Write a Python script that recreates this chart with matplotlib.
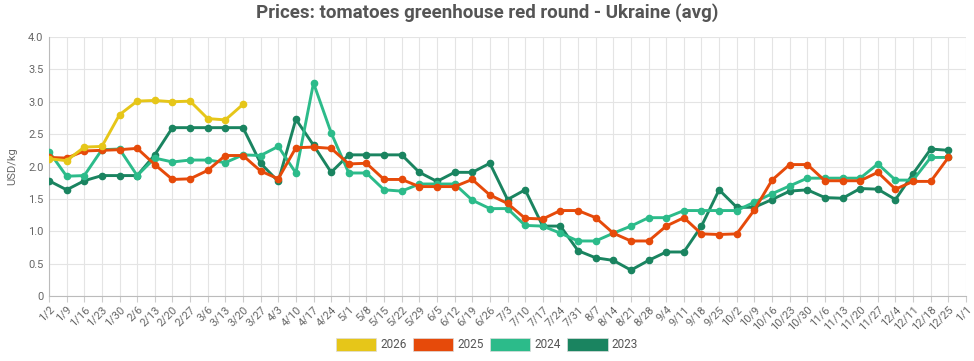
import numpy as np
import matplotlib
matplotlib.use('Agg')
import matplotlib.pyplot as plt
from matplotlib.patches import Patch
from matplotlib.ticker import FuncFormatter

plt.rcParams['font.family'] = ['Roboto', 'DejaVu Sans']

# ---------------- data ----------------
weeks = ['1/2', '1/9', '1/16', '1/23', '1/30', '2/6', '2/13', '2/20', '2/27', '3/6',
         '3/13', '3/20', '3/27', '4/3', '4/10', '4/17', '4/24', '5/1', '5/8', '5/15',
         '5/22', '5/29', '6/5', '6/12', '6/19', '6/26', '7/3', '7/10', '7/17', '7/24',
         '7/31', '8/7', '8/14', '8/21', '8/28', '9/4', '9/11', '9/18', '9/25', '10/2',
         '10/9', '10/16', '10/23', '10/30', '11/6', '11/13', '11/20', '11/27', '12/4',
         '12/11', '12/18', '12/25', '1/1']

prices_2026 = [2.12, 2.09, 2.30, 2.31, 2.80, 3.01, 3.02, 3.00, 3.01, 2.74, 2.72, 2.96]

prices_2025 = [2.14, 2.13, 2.24, 2.25, 2.26, 2.28, 2.03, 1.80, 1.81, 1.94,
               2.17, 2.17, 1.93, 1.81, 2.29, 2.30, 2.28, 2.04, 2.05, 1.80,
               1.80, 1.69, 1.69, 1.69, 1.80, 1.56, 1.43, 1.20, 1.19, 1.32,
               1.32, 1.21, 0.97, 0.85, 0.85, 1.08, 1.21, 0.96, 0.95, 0.96,
               1.33, 1.79, 2.03, 2.03, 1.78, 1.78, 1.78, 1.91, 1.65, 1.77,
               1.77, 2.14]

prices_2024 = [2.23, 1.85, 1.86, 2.26, 2.27, 1.86, 2.13, 2.07, 2.10, 2.10,
               2.06, 2.18, 2.17, 2.31, 1.90, 3.29, 2.52, 1.90, 1.90, 1.64,
               1.62, 1.73, 1.73, 1.73, 1.48, 1.35, 1.35, 1.09, 1.08, 0.97,
               0.85, 0.85, 0.97, 1.08, 1.21, 1.21, 1.32, 1.32, 1.32, 1.32,
               1.45, 1.58, 1.70, 1.82, 1.82, 1.82, 1.82, 2.04, 1.79, 1.79,
               2.14, 2.14]

prices_2023 = [1.78, 1.64, 1.78, 1.86, 1.86, 1.86, 2.18, 2.60, 2.60, 2.60,
               2.60, 2.60, 2.05, 1.77, 2.73, 2.33, 1.91, 2.18, 2.18, 2.18,
               2.18, 1.91, 1.77, 1.91, 1.91, 2.05, 1.49, 1.64, 1.08, 1.08,
               0.70, 0.59, 0.55, 0.40, 0.55, 0.68, 0.68, 1.08, 1.64, 1.37,
               1.37, 1.49, 1.62, 1.64, 1.52, 1.51, 1.66, 1.65, 1.49, 1.89,
               2.27, 2.25]

series = [('2026', prices_2026, '#e6c619'),
          ('2025', prices_2025, '#e64a0a'),
          ('2024', prices_2024, '#2cbb8a'),
          ('2023', prices_2023, '#1a8460')]

# ---------------- figure ----------------
fig = plt.figure(figsize=(9.74, 3.61), dpi=100)
ax = fig.add_axes([0.0503, 0.180, 0.9415, 0.7175])

x = np.arange(len(weeks))
# 旧年份先画，2026 在最上层
for name, vals, color in reversed(series):
    ax.plot(x[:len(vals)], vals, color=color, lw=2.1, marker='o', ms=4.5,
            solid_joinstyle='round', zorder=3)

ax.set_xlim(0, len(weeks) - 1)
ax.set_ylim(0, 4.0)
ax.set_xticks(x)
ax.set_xticklabels(weeks, rotation=45, ha='right', rotation_mode='anchor',
                   fontsize=8, color='#666666')
ax.set_yticks(np.arange(0, 4.01, 0.5))
ax.yaxis.set_major_formatter(FuncFormatter(lambda v, p: '0' if v == 0 else f'{v:.1f}'))
ax.tick_params(axis='y', labelsize=8, colors='#666666', length=0, pad=4)
ax.tick_params(axis='x', length=4, color='#cccccc', pad=2)

ax.grid(True, color='#e4e4e4', lw=0.8)
ax.set_axisbelow(True)
for s in ['top', 'right']:
    ax.spines[s].set_visible(False)
for s in ['left', 'bottom']:
    ax.spines[s].set_color('#bbbbbb')

ax.set_ylabel('USD/kg', fontsize=8, color='#666666', labelpad=8)

fig.suptitle('Prices: tomatoes greenhouse red round - Ukraine (avg)', x=0.5, y=0.99,
             fontsize=13.5, fontweight='bold', color='#555555')

handles = [Patch(facecolor=c, edgecolor='#dddddd', lw=0.5, label=n) for n, v, c in series]
fig.legend(handles=handles, loc='center', bbox_to_anchor=(0.5, 0.045), ncol=4,
           frameon=False, fontsize=8.5, handlelength=3.4, handleheight=1.3,
           handletextpad=0.35, columnspacing=0.55, labelcolor='#555555')

plt.savefig('out.png', dpi=100)
